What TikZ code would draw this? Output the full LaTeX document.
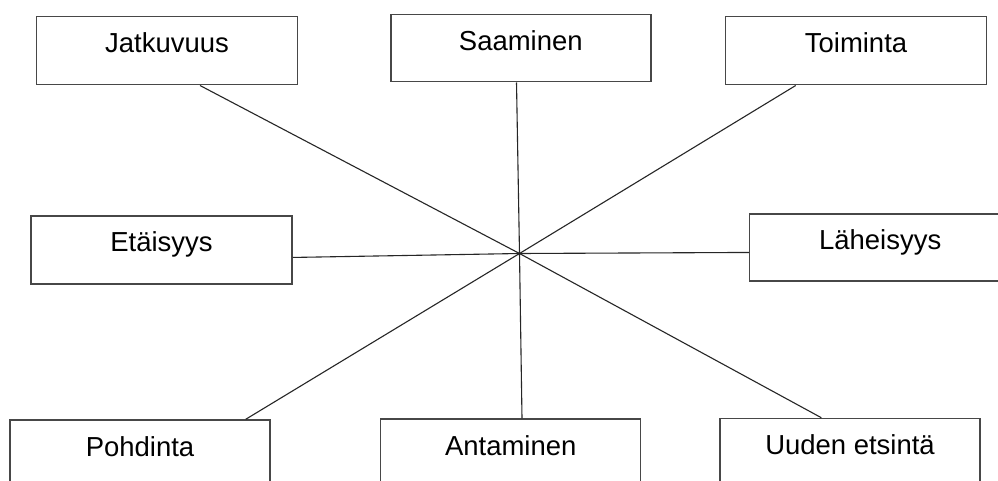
\documentclass[tikz,border=0pt]{standalone}
\usepackage{fontspec}
\setmainfont{Liberation Sans}
\begin{document}
\begin{tikzpicture}[x=0.75pt,y=-0.75pt,
  box/.style={draw=black!72, line width=1.5pt*0.75, rectangle, inner xsep=0pt, inner ysep=0pt,
    minimum width=261*0.75pt, text height=36*0.75pt, text depth=32*0.75pt,
    font=\fontsize{20.6}{24}\selectfont, anchor=north},
  conn/.style={draw=black!85, line width=1.1*0.75pt}]
\clip (0,0) rectangle (998,481);
\fill[white] (0,0) rectangle (998,481);
\node[box] (jat) at (167,16) {Jatkuvuus};
\node[box, text depth=31*0.75pt, minimum width=260*0.75pt] (saa) at (520.8,14) {Saaminen};
\node[box] (toi) at (856,16) {Toiminta};
\node[box] (eta) at (161.5,215) {Etäisyys};
\node[box, text height=35.5*0.75pt, text depth=31.5*0.75pt] (lah) at (880.2,213) {Läheisyys};
\node[box, minimum width=260*0.75pt] (poh) at (140,419.3) {Pohdinta};
\node[box, minimum width=260*0.75pt] (ant) at (510.7,418.3) {Antaminen};
\node[box, minimum width=260*0.75pt] (uud) at (850,417.7) {Uuden etsintä};
\coordinate (c) at (519.5,253.5);
\draw[conn] ([xshift=33*0.75pt]jat.south) -- (c);
\draw[conn] ([xshift=-4.3*0.75pt]saa.south) -- (c);
\draw[conn] ([xshift=-60.3*0.75pt]toi.south) -- (c);
\draw[conn] ([yshift=-7.7*0.75pt]eta.east) -- (c);
\draw[conn] ([yshift=-5.2*0.75pt]lah.west) -- (c);
\draw[conn] ([xshift=105.7*0.75pt]poh.north) -- (c);
\draw[conn] ([xshift=11.3*0.75pt]ant.north) -- (c);
\draw[conn] ([xshift=-28.7*0.75pt]uud.north) -- (c);
\end{tikzpicture}
\end{document}
